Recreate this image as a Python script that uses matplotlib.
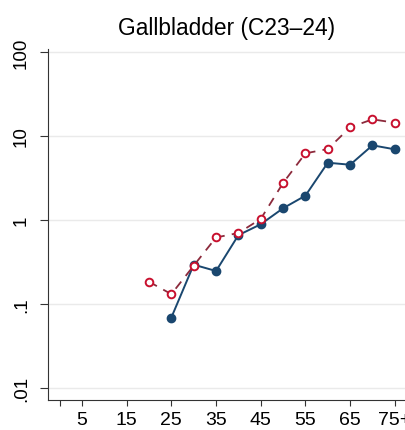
import numpy as np
import matplotlib.pyplot as plt

plt.rcParams['font.family'] = ['Liberation Sans', 'DejaVu Sans']

# age groups (midpoints) and rates per 100,000
ages_filled = [25, 30, 35, 40, 45, 50, 55, 60, 65, 70, 75]
rate_filled = [0.069, 0.294, 0.247, 0.66, 0.89, 1.38, 1.95, 4.81, 4.55, 7.75, 6.94]

ages_hollow = [20, 25, 30, 35, 40, 45, 50, 55, 60, 65, 70, 75]
rate_hollow = [0.184, 0.131, 0.286, 0.62, 0.70, 1.03, 2.76, 6.22, 7.0, 12.7, 15.8, 14.4]

xticks = [0, 5, 15, 25, 35, 45, 55, 65, 75]
xlabels = ['', '5', '15', '25', '35', '45', '55', '65', '75+']
yticks = [0.01, 0.1, 1, 10, 100]
ylabels = ['.01', '.1', '1', '10', '100']

fig = plt.figure(figsize=(4.06, 4.31), dpi=100)
ax = fig.add_axes([48 / 406, 1 - 401 / 431, 1 - 48 / 406, (401 - 50) / 431])

ax.plot(ages_hollow, rate_hollow, color='#8c2a3c', lw=1.3, dashes=(5, 4),
        marker='o', ms=5.5, mfc='white', mec='#c8102e', mew=1.4, zorder=3)
ax.plot(ages_filled, rate_filled, color='#1a476f', lw=1.4,
        marker='o', ms=6, mfc='#1a476f', mec='#1a476f', zorder=2)

ax.set_yscale('log')
ax.set_ylim(10 ** (-2 - 0.143), 10 ** (2 + 0.036))
ax.set_xlim(-2.6, 77.5)

ax.set_yticks(yticks)
ax.set_yticklabels(ylabels, rotation=90, va='center', fontsize=13.5)
ax.minorticks_off()
ax.set_xticks(xticks)
ax.set_xticklabels(xlabels, fontsize=14)

ax.grid(axis='y', color='#eaeaea', lw=1)
ax.set_axisbelow(True)
for s in ['top', 'right']:
    ax.spines[s].set_visible(False)
for s in ['left', 'bottom']:
    ax.spines[s].set_color('#333333')
ax.tick_params(axis='x', length=4.5, color='#333333', pad=3.6)
ax.tick_params(axis='y', length=6, color='#333333', pad=7)

ax.set_title('Gallbladder (C23\u201324)', fontsize=16.4, pad=11)

plt.savefig('out.png', dpi=100)
